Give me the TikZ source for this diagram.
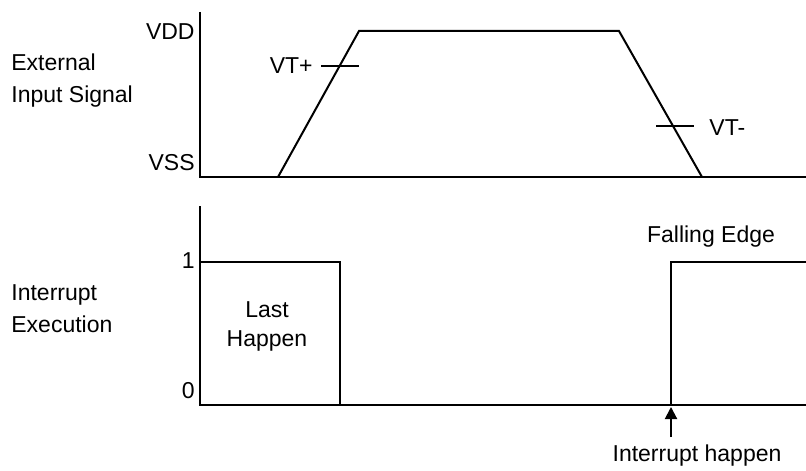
\documentclass[tikz,border=0pt]{standalone}
\usepackage{fontspec}
\setmainfont{Liberation Sans}
\usetikzlibrary{arrows.meta}
\begin{document}
\begin{tikzpicture}[x=0.5pt,y=-0.5pt,
  wave/.style={line width=1pt, line join=miter},
  lbl/.style={font=\fontsize{11.5}{16}\selectfont, inner sep=0pt},
  boxlbl/.style={font=\fontsize{11.5}{14.5}\selectfont, inner sep=0pt, align=center},
  sidelbl/.style={font=\fontsize{11.5}{16}\selectfont, inner sep=0pt, align=left, anchor=west}]
\useasboundingbox (0,0) rectangle (806,470);
% ---------- top chart ----------
\coordinate (ta) at (200,12);
\coordinate (to) at (200,177);
\coordinate (tend) at (806,177);
\coordinate (r0) at (278,177);
\coordinate (r1) at (359,31);
\coordinate (f0) at (619,31);
\coordinate (f1) at (702,177);
\draw[wave] (ta) -- (to) -- (tend);
\draw[wave] (r0) -- (r1) -- (f0) -- (f1);
\coordinate (vtpa) at (321,66);
\coordinate (vtpb) at (359,66);
\draw[wave] (vtpa) -- (vtpb);
\coordinate (vtma) at (656,126);
\coordinate (vtmb) at (694,126);
\draw[wave] (vtma) -- (vtmb);
\node[lbl, anchor=east] (vdd) at (195,32) {VDD};
\node[lbl, anchor=east] (vss) at (195,163) {VSS};
\node[lbl, anchor=east] (vtp) at (313,66) {VT+};
\node[lbl, anchor=west] (vtm) at (709,128) {VT-};
\node[sidelbl] (ext) at (11,81) {External\\Input Signal};
% ---------- bottom chart ----------
\coordinate (ba) at (200,206);
\coordinate (bo) at (200,405);
\coordinate (bend) at (806,405);
\coordinate (p0) at (200,262);
\coordinate (p1) at (340,262);
\coordinate (p2) at (340,405);
\coordinate (q0) at (671,405);
\coordinate (q1) at (671,262);
\coordinate (q2) at (806,262);
\draw[wave] (ba) -- (bo) -- (bend);
\draw[wave] (p0) -- (p1) -- (p2);
\draw[wave] (q0) -- (q1) -- (q2);
\node[lbl, anchor=east] (one) at (195,261) {1};
\node[lbl, anchor=east] (zero) at (195,391) {0};
\node[boxlbl] (last) at (267,326) {Last\\Happen};
\node[sidelbl] (intx) at (11,309) {Interrupt\\Execution};
\node[lbl] (fe) at (711,237) {Falling Edge};
\node[lbl] (ih) at (697,456) {Interrupt happen};
\coordinate (arrtail) at (671,437);
\coordinate (arrtip) at (671,407);
\draw[wave, -{Triangle[length=6pt, width=6pt]}] (arrtail) -- (arrtip);
\end{tikzpicture}
\end{document}
